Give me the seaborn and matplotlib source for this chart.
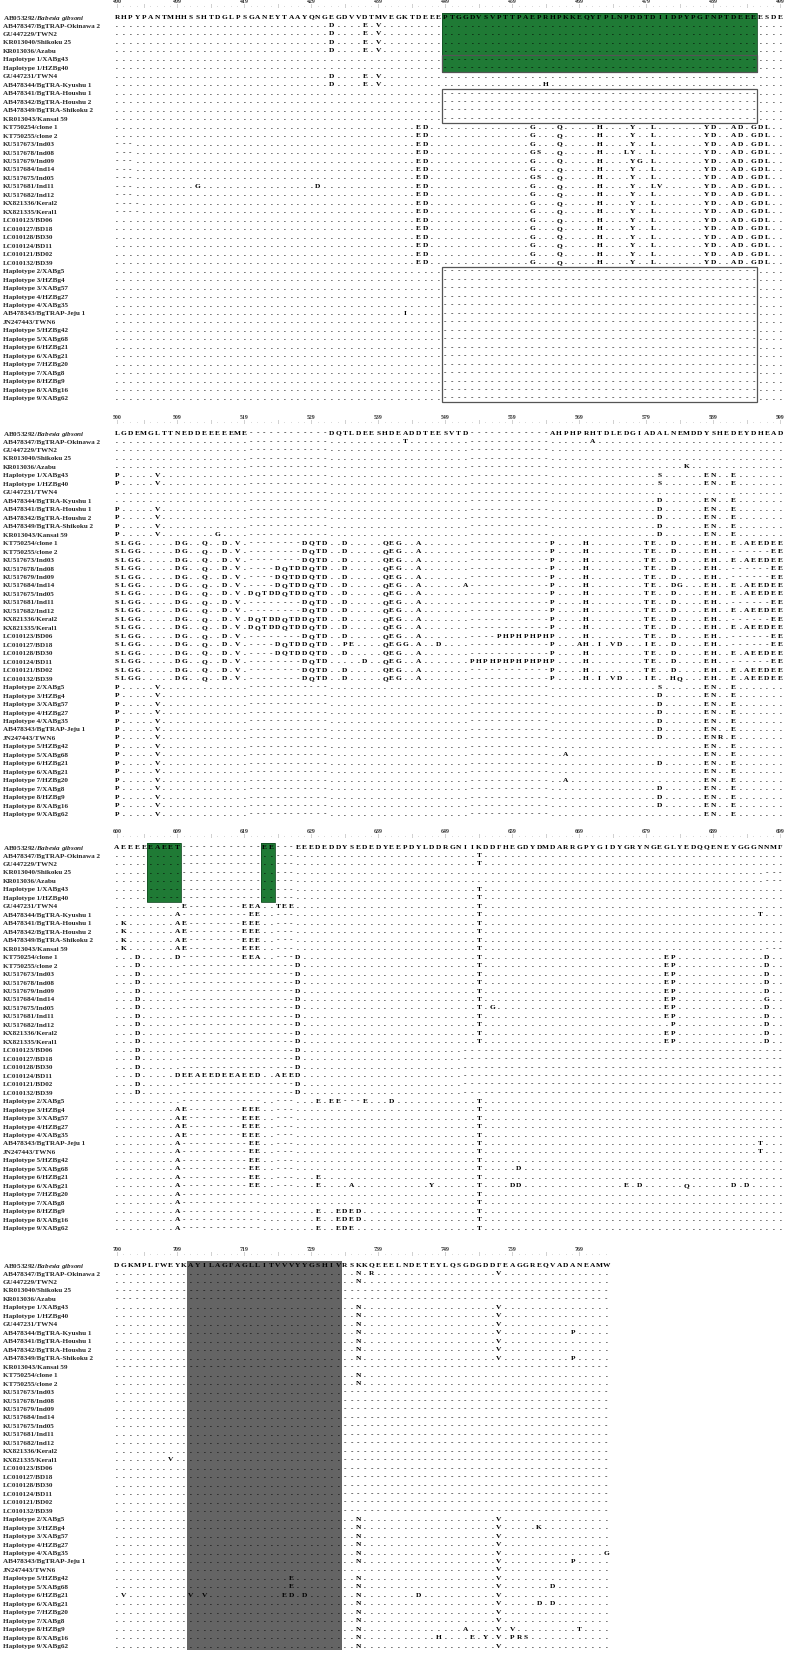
import re
import numpy as np
import matplotlib
matplotlib.use('Agg')
import matplotlib.pyplot as plt
import seaborn as sns
from matplotlib.colors import ListedColormap
from matplotlib.patches import Rectangle

# ---- data -------------------------------------------------------------
labels = [
    'AB053292/$\\mathit{Babesia\\ gibsoni}$', 'AB478347/BgTRAP-Okinawa 2', 'GU447229/TWN2',
    'KR013040/Shikoku 25', 'KR013036/Azabu', 'Haplotype 1/XABg43', 'Haplotype 1/HZBg40',
    'GU447231/TWN4', 'AB478344/BgTRA-Kyushu 1', 'AB478341/BgTRA-Houshu 1',
    'AB478342/BgTRA-Houshu 2', 'AB478349/BgTRA-Shikoku 2', 'KR013043/Kansai 59',
    'KT750254/clone 1', 'KT750255/clone 2', 'KU517673/Ind03', 'KU517678/Ind08',
    'KU517679/Ind09', 'KU517684/Ind14', 'KU517675/Ind05', 'KU517681/Ind11',
    'KU517682/Ind12', 'KX821336/Keral2', 'KX821335/Keral1', 'LC010123/BD06',
    'LC010127/BD18', 'LC010128/BD30', 'LC010124/BD11', 'LC010121/BD02', 'LC010132/BD39',
    'Haplotype 2/XABg5', 'Haplotype 3/HZBg4', 'Haplotype 3/XABg57', 'Haplotype 4/HZBg27',
    'Haplotype 4/XABg35', 'AB478343/BgTRAP-Jeju 1', 'JN247443/TWN6', 'Haplotype 5/HZBg42',
    'Haplotype 5/XABg68', 'Haplotype 6/HZBg21', 'Haplotype 6/XABg21', 'Haplotype 7/HZBg20',
    'Haplotype 7/XABg8', 'Haplotype 8/HZBg9', 'Haplotype 8/XABg16', 'Haplotype 9/XABg62',
]

starts = [400, 500, 600, 700]

ref1 = 'RHPYPANTMHHSSHTDGLPSGANEYTAAYQNGEGDVVDTMVEGKTDEEEPTGGDVSVPTTPAEPRHPKKEQYFPLNPDDTDIIDPYPGFNPTDEEEESDE'
ref2 = ('LGDEMGLTTNEDDEEEEEME' + '-' * 12 + 'DQTLDEESHDEADDTEESVTD' + '-' * 12
        + 'AHPHPRHTDLEDGIADALNEMDDYSHEDEYDHEAD')
ref3 = ('AEEEE' + 'EAEET' + '-' * 12 + 'EE' + '---'
        + 'EEEDEDDYSEDEDYEEPDYLDDRGNIIKDDFHEGDYDMDARRGPYGIDYGRYNGEGLYEDQQENEYGGGNNMF')
ref4 = 'DGKMPLFWEYK' + 'AYILAGFAGLLITVVVYYGSHIV' + 'RSKKQEEELNDETEYLQSGDGDDFEAGGREQVADANEAMW'

# edits per row (rows 2..46), "col:TEXT" or "a-b:char"
jp1 = '32:D 37:E 39:V'
del1 = '49-95:-'
ind1 = '45:ED 62:G 66:Q 72:H 77:Y 80:L 88:YD 92:AD 95:GDL'
edits1 = [
    jp1, jp1, jp1, jp1, del1, del1, jp1, jp1 + ' 64:H',
    del1, del1, del1, del1,
    ind1, ind1,
    '0-2:- ' + ind1,
    '0-2:- 45:ED 62:GS 66:Q 72:H 76:LY 80:L 88:YD 92:AD 95:GDL',
    '0-2:- 45:ED 62:G 66:Q 72:H 77:YG 80:L 88:YD 92:AD 95:GDL',
    '0-2:- ' + ind1,
    '0-2:- 45:ED 62:GS 66:Q 72:H 77:Y 80:L 88:YD 92:AD 95:GDL',
    '0-2:- 12:G 30:D 45:ED 62:G 66:Q 72:H 77:Y 80:LV 88:YD 92:AD 95:GDL',
    '0-2:- ' + ind1,
    '0-3:- ' + ind1, '0-3:- ' + ind1,
    ind1, ind1, ind1, ind1, ind1, ind1,
    del1, del1, del1, del1, del1, '43:I ' + del1,
    del1, del1, del1, del1, del1, del1, del1, del1, del1, del1,
]

lft = '0:SLGG 9:DG 13:Q 16:D 18:V '
i1, i2, i3 = '28:DQTD ', '24:DQTDDQTD ', '20:DQTDDQTDDQTD '
mid = '34:D 40:QEG 45:A '
rgt = '65:P 70:H 79:TE 83:D 88:EH '
tA, tB = '92:E 94:AEEDEE', '92-97:- 98:EE'
hap2 = '0:P 6:V '
edits2 = [
    '43:T 71:A', '', '', '85:K',
    hap2 + '81:S 88:EN 92:E', hap2 + '81:S 88:EN 92:E',
    '', '81:D 88:EN 92:E',
    hap2 + '81:D 88:EN 92:E', hap2 + '81:D 88:EN 92:E', hap2 + '81:D 88:EN 92:E',
    hap2 + '15:G 81:D 88:EN 92:E',
    lft + i1 + mid + rgt + tA,
    lft + i1 + mid + rgt + tB,
    lft + i1 + mid + rgt + tA,
    lft + i2 + mid + rgt + tB,
    lft + i2 + mid + rgt + tB,
    lft + i2 + mid + '52:A 65:P 70:H 79:TE 83:DG 88:EH ' + tA,
    lft + i3 + mid + rgt + tA,
    lft + i1 + mid + rgt + tB,
    lft + i1 + mid + rgt + tA,
    lft + i3 + mid + rgt + tB,
    lft + i3 + mid + rgt + tA,
    lft + i1 + mid + '57:PHPHPHPHP 70:H 79:TE 83:D 88:EH ' + tB,
    lft + i2 + '34:PE 40:QEGG 45:A 48:D 65:P 69:AH 72:I 74:VD 79:IE 83:D 88:EH ' + tB,
    lft + i2 + mid + rgt + tA,
    lft + i1 + '37:D 40:QEG 45:A 53:PHPHPHPHPHPHP 70:H 79:TE 83:D 88:EH ' + tB,
    lft + i1 + mid + rgt + tA,
    lft + i1 + mid + '65:P 70:H 72:I 74:VD 79:IE 83:HQ 88:EH ' + tA,
    hap2 + '81:S 88:EN 92:E',
    hap2 + '81:D 88:EN 92:E', hap2 + '81:D 88:EN 92:E', hap2 + '81:D 88:EN 92:E',
    hap2 + '81:D 88:EN 92:E', hap2 + '81:D 88:EN 92:E',
    hap2 + '81:D 88:ENR 92:E',
    hap2 + '88:EN 92:E',
    hap2 + '67:A 88:EN 92:E',
    hap2 + '81:D 88:EN 92:E',
    hap2 + '88:EN 92:E',
    hap2 + '67:A 88:EN 92:E',
    hap2 + '81:D 88:EN 92:E', hap2 + '81:D 88:EN 92:E', hap2 + '81:D 88:EN 92:E',
    hap2 + '88:EN 92:E',
]

hou3 = '1:K 9:AE 19:EEE 54:T'
ind3 = '3:D 22-23:- 27:D 54:T 82:EP 97:D'
bd3 = '3:D 22-23:- 27:D 52-99:-'
edits3 = [
    '54:T', '54:T', '97-99:-', '97-99:-',
    '5-9:- 22-23:- 54:T', '5-9:- 22-23:- 54:T',
    '10:E 19:EEA 24:TEE 54:T',
    '9:A 20:EE 54:T 96:T',
    hou3, hou3, hou3, hou3 + ' 97-99:-',
    '3:D 9:D 19:EEA 27:D 54:T 82:EP 97:D',
    ind3, ind3, ind3, ind3,
    '3:D 22-23:- 27:D 54:T 82:EP 97:G',
    '3:D 22-23:- 27:D 54:T 56:G 82:EP 97:D',
    ind3,
    '3:D 22-23:- 27:D 54:T 83:P 97:D',
    ind3, ind3,
    bd3, bd3, bd3,
    '3:D 9:DEEAEEDEEAEED 24:AEE 27:D 52-99:-',
    bd3, bd3,
    '30:E 32:EE 34-36:- 37:E 41:D 54:T',
    '9:AE 19:EEE 54:T', '9:AE 19:EEE 54:T', '9:AE 19:EEE 54:T', '9:AE 19:EEE 54:T',
    '9:A 20:EE 54:T 96:T', '9:A 20:EE 54:T 96:T',
    '9:A 20:EE 54:T',
    '9:A 20:EE 54:T 60:D',
    '9:A 20:EE 30:E 54:T',
    '9:A 20:EE 30:E 35:A 47:Y 54:T 59:DD 76:E 78:D 85:Q 92:D 94:D',
    '9:A 24-26:. 54:T', '9:A 24-26:. 54:T',
    '9:A 24-26:. 30:E 33:EDED 54:T',
    '9:A 24-26:. 30:E 33:EDED 54:T',
    '9:A 24-26:. 30:E 33:EDE 54:T',
]

nv4 = '36:N 57:V'
gap4 = '34-73:-'
edits4 = [
    '36:N 38:R 57:V', '36:N', '0-73:-', '0-73:-',
    nv4, nv4, nv4, nv4 + ' 68:P', nv4, nv4, nv4 + ' 68:P',
    '0-73:-', '36:N', '36:N',
    gap4, gap4, gap4, gap4, gap4, gap4, gap4, gap4, '8:V ' + gap4,
    gap4, gap4, gap4, gap4, gap4, gap4,
    nv4, nv4 + ' 63:K', nv4, nv4, nv4 + ' 73:G', nv4 + ' 68:P',
    '57:V',
    '26:E ' + nv4, '26:E ' + nv4 + ' 65:D',
    '1:V 11:V 13:V 25:ED 28:D 36:N 45:D 57:V',
    nv4 + ' 63:D 65:D',
    nv4, nv4,
    '36:N 52:A 57:V 59:V 69:T',
    '36:N 48:H 53:E 55:Y 57:V 59:PRS',
    nv4,
]

refs = [ref1, ref2, ref3, ref4]
edits = [edits1, edits2, edits3, edits4]

# shaded spans (first col, last col, first row, last row), rows 1-based
green_spans = [[(49, 95, 1, 7)], [], [(5, 9, 1, 7), (22, 23, 1, 7)], []]
grey_spans = [[], [], [], [(11, 33, 1, 46)]]
boxes = [[(49, 95, 6, 7), (49, 95, 10, 13), (49, 95, 31, 46)], [], [], []]


def build_rows(ref, row_edits):
    base = ['-' if ch == '-' else '.' for ch in ref]
    rows = [list(ref)]
    for spec in row_edits:
        row = list(base)
        for tok in spec.split():
            m = re.match(r'(\d+)(?:-(\d+))?:(.+)', tok)
            a = int(m.group(1))
            if m.group(2):
                for i in range(a, int(m.group(2)) + 1):
                    row[i] = m.group(3)
            else:
                for i, ch in enumerate(m.group(3)):
                    row[a + i] = ch
        rows.append(row)
    return np.array(rows)


# ---- style -----------------------------------------------------------
sns.set_theme(style='white')
plt.rcParams['font.family'] = ['Liberation Serif', 'DejaVu Serif']
plt.rcParams['font.weight'] = 'bold'
plt.rcParams['mathtext.fontset'] = 'custom'
plt.rcParams['mathtext.it'] = 'Liberation Serif:italic:bold'
plt.rcParams['mathtext.rm'] = 'Liberation Serif:bold'

GREEN = '#1f7a35'
GREY = '#646464'
cmap = ListedColormap(['white', GREEN, GREY])

W, H = 785, 1653
cell_w, cell_h = 6.7, 8.47
x0 = 113.7
tops = [12.8, 428.8, 842.8, 1260.8]

fig = plt.figure(figsize=(W / 100, H / 100), dpi=100)

for b in range(4):
    letters = build_rows(refs[b], edits[b])
    nrow, ncol = letters.shape
    shade = np.zeros((nrow, ncol))
    for c0, c1, r0, r1 in green_spans[b]:
        shade[r0 - 1:r1, c0:c1 + 1] = 1
    for c0, c1, r0, r1 in grey_spans[b]:
        shade[r0 - 1:r1, c0:c1 + 1] = 2

    ax = fig.add_axes([x0 / W, 1 - (tops[b] + nrow * cell_h) / H,
                       ncol * cell_w / W, nrow * cell_h / H])
    sns.heatmap(shade, ax=ax, cmap=cmap, vmin=0, vmax=2, cbar=False,
                annot=letters, fmt='', xticklabels=False, yticklabels=False,
                annot_kws={'color': 'black', 'fontsize': 5.3, 'fontweight': 'bold',
                           'family': 'Liberation Serif'})

    # sequence names on the left
    ax.set_yticks(np.arange(nrow) + 0.5)
    ax.set_yticklabels(labels, rotation=0, ha='left', fontsize=5.1, fontweight='bold')
    ax.tick_params(axis='y', length=0, pad=(x0 - 3) * 0.72)

    # position ruler on top
    lab_cols = [0] + list(range(9, ncol, 10))
    ax.xaxis.tick_top()
    ax.set_xticks([c + 0.5 for c in lab_cols])
    ax.set_xticklabels([str(starts[b] + c) for c in lab_cols], fontsize=4.2,
                       fontweight='bold', color='#333333')
    ax.tick_params(axis='x', length=0, pad=6.0)
    for c in range(ncol):
        mark = '|' if (c == 0 or c % 5 == 4) else '.'
        ax.text(c + 0.5, -0.8, mark, ha='center', va='center', fontsize=3.8,
                color='#555555', fontweight='normal', clip_on=False)

    for c0, c1, r0, r1 in green_spans[b]:
        ax.add_patch(Rectangle((c0, r0 - 1), c1 - c0 + 1, r1 - r0 + 1, fill=False,
                               ec='#124d22', lw=0.6, clip_on=False))
    for c0, c1, r0, r1 in boxes[b]:
        ax.add_patch(Rectangle((c0, r0 - 1), c1 - c0 + 1, r1 - r0 + 1, fill=False,
                               ec='#555555', lw=0.9, clip_on=False))

    for s in ax.spines.values():
        s.set_visible(False)

fig.savefig('out.png', dpi=100)
